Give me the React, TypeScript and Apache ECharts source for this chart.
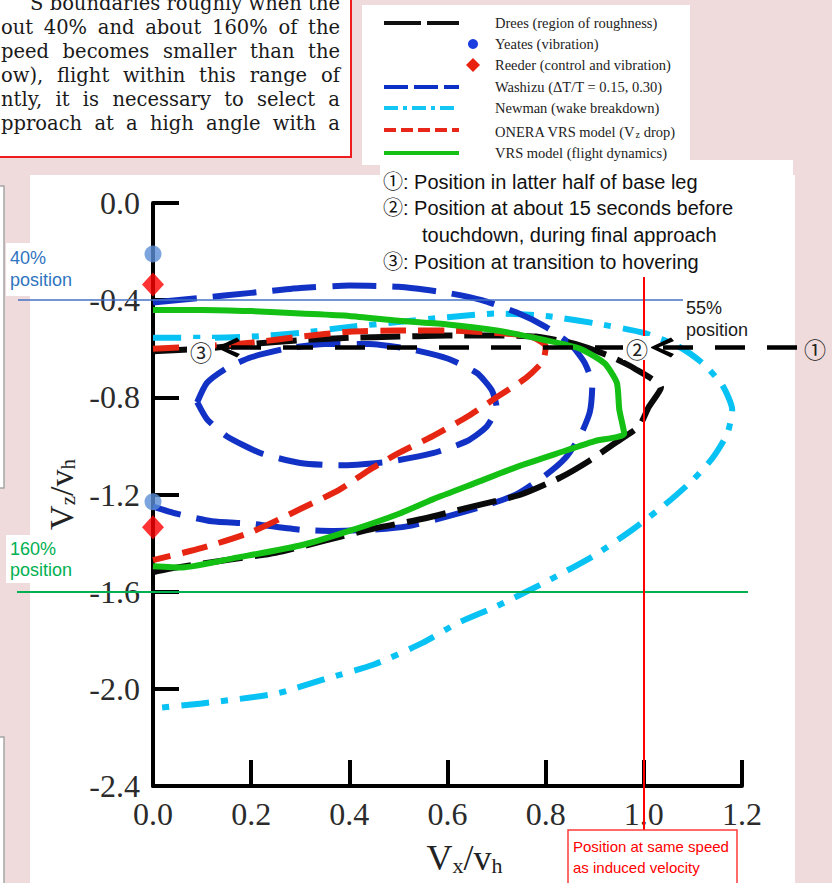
import React, { useEffect, useRef } from 'react';
import * as echarts from 'echarts';

// ---------- axes ----------
const X_MIN = 0;
const X_MAX = 1.2;
const X_STEP = 0.2;
const Y_MIN = -2.4;
const Y_MAX = 0;
const Y_STEP = 0.4;

// ---------- series names ----------
const NAME_DREES = 'Drees (region of roughness)';
const NAME_YEATES = 'Yeates (vibration)';
const NAME_REEDER = 'Reeder (control and vibration)';
const NAME_WASHIZU = 'Washizu (\u0394T/T = 0.15, 0.30)';
const NAME_NEWMAN = 'Newman (wake breakdown)';
const NAME_ONERA = 'ONERA VRS model (Vz drop)';
const NAME_VRS = 'VRS model (flight dynamics)';

// ---------- data (Vx/vh, Vz/vh) ----------
const drees = [
  [0, -0.61], [0.1, -0.6], [0.2, -0.58], [0.3, -0.565], [0.4, -0.555], [0.5, -0.55],
  [0.6, -0.545], [0.7, -0.545], [0.78, -0.55], [0.86, -0.58], [0.93, -0.63], [0.98, -0.68],
  [1.035, -0.76], [1.01, -0.84], [0.99, -0.92], [0.94, -0.99], [0.89, -1.06], [0.83, -1.13],
  [0.75, -1.2], [0.65, -1.25], [0.55, -1.3], [0.45, -1.34], [0.35, -1.39], [0.25, -1.44],
  [0.15, -1.47], [0.05, -1.5], [0, -1.52],
];
const yeates = [[0, -0.21], [0, -1.23]];
const reeder = [[0, -0.335], [0, -1.335]];
const washizuOuter = [
  [0, -0.41], [0.1, -0.39], [0.2, -0.37], [0.3, -0.35], [0.4, -0.34], [0.5, -0.345],
  [0.6, -0.37], [0.67, -0.4], [0.74, -0.45], [0.8, -0.51], [0.85, -0.58], [0.88, -0.66],
  [0.895, -0.75], [0.89, -0.86], [0.87, -0.96], [0.84, -1.05], [0.8, -1.12], [0.74, -1.2],
  [0.67, -1.25], [0.6, -1.29], [0.52, -1.33], [0.45, -1.345], [0.37, -1.35], [0.3, -1.345],
  [0.2, -1.32], [0.12, -1.31], [0.05, -1.28], [0, -1.25],
];
const washizuInner = [
  [0.09, -0.82], [0.11, -0.74], [0.15, -0.68], [0.2, -0.635], [0.27, -0.6], [0.35, -0.58],
  [0.44, -0.58], [0.52, -0.6], [0.6, -0.64], [0.66, -0.7], [0.69, -0.77], [0.7, -0.84],
  [0.68, -0.92], [0.64, -0.98], [0.57, -1.03], [0.48, -1.065], [0.38, -1.08], [0.3, -1.07],
  [0.22, -1.03], [0.15, -0.96], [0.11, -0.89], [0.09, -0.82],
];
const newman = [
  [0, -0.555], [0.1, -0.555], [0.2, -0.55], [0.3, -0.535], [0.4, -0.51], [0.5, -0.49],
  [0.6, -0.47], [0.7, -0.455], [0.8, -0.465], [0.9, -0.495], [1.0, -0.535], [1.07, -0.59],
  [1.12, -0.66], [1.16, -0.75], [1.18, -0.85], [1.17, -0.95], [1.14, -1.05], [1.1, -1.14],
  [1.05, -1.23], [0.98, -1.34], [0.9, -1.45], [0.8, -1.56], [0.7, -1.66], [0.62, -1.73],
  [0.55, -1.81], [0.45, -1.9], [0.35, -1.96], [0.25, -2.02], [0.1, -2.06], [0, -2.08],
];
const onera = [
  [0, -0.6], [0.1, -0.59], [0.2, -0.575], [0.3, -0.55], [0.4, -0.53], [0.5, -0.525],
  [0.6, -0.525], [0.7, -0.535], [0.77, -0.55], [0.8, -0.59], [0.795, -0.65], [0.76, -0.72],
  [0.7, -0.8], [0.64, -0.88], [0.57, -0.96], [0.5, -1.03], [0.44, -1.1], [0.38, -1.18],
  [0.3, -1.26], [0.2, -1.355], [0.1, -1.42], [0, -1.47],
];
const vrs = [
  [0, -0.44], [0.1, -0.44], [0.2, -0.445], [0.3, -0.455], [0.4, -0.465], [0.5, -0.485],
  [0.6, -0.5], [0.7, -0.525], [0.8, -0.565], [0.87, -0.6], [0.92, -0.66], [0.945, -0.74],
  [0.95, -0.85], [0.96, -0.95], [0.9, -0.98], [0.84, -1.02], [0.75, -1.08], [0.66, -1.15],
  [0.57, -1.22], [0.5, -1.28], [0.4, -1.35], [0.3, -1.41], [0.17, -1.46], [0.06, -1.5],
  [0, -1.495],
];

// ---------- annotation values ----------
const POS_40 = -0.4;
const POS_160 = -1.6;
const INDUCED_VX = 1.0;
const PATH_VZ = -0.595;

// ---------- texts ----------
const paragraphLines = [
  'S boundaries roughly when the',
  'out 40% and about 160% of the',
  'peed becomes smaller than the',
  'ow), flight within this range of',
  'ntly, it is necessary to select a',
  'pproach at a high angle with a',
];
const noteLines = [
  '\u2460: Position in latter half of base leg',
  '\u2461: Position at about 15 seconds before',
  'touchdown, during final approach',
  '\u2462: Position at transition to hovering',
];
const label40 = '40%\nposition';
const label160 = '160%\nposition';
const label55 = '55%\nposition';
const labelInduced = 'Position at same speed\nas induced velocity';

// ---------- styles ----------
const C_DREES = '#0a0a0a';
const C_WASHIZU = '#1232c6';
const C_NEWMAN = '#08c2f4';
const C_ONERA = '#e62612';
const C_VRS = '#14c014';
const SERIF = "'Liberation Serif', 'DejaVu Serif', serif";
const SANS = "'Liberation Sans', 'Noto Sans CJK JP', sans-serif";
const CIRCLED = "'Noto Sans CJK JP', 'DejaVu Sans', sans-serif";
const PARA_FONT = "'DejaVu Serif'";
const PARA_SIZE = 19.5;
const CHEVRON = 'path://M10,0 L20,21 L16.5,24 L10,8.5 L3.5,24 L0,21 Z';

function lineSeries(name: string, data: number[][], color: string, dash: any, z = 2) {
  return {
    name,
    type: 'line',
    data,
    smooth: 0.2,
    symbol: 'none',
    z,
    clip: false,
    lineStyle: { color, width: 6, type: dash, cap: 'butt', join: 'round' },
  };
}

const legendRows = [
  { name: NAME_DREES, kind: 'line', color: '#111', dash: [37, 6] },
  { name: NAME_YEATES, kind: 'circle', color: '#1a3de0' },
  { name: NAME_REEDER, kind: 'diamond', color: '#e8220e' },
  { name: NAME_WASHIZU, kind: 'line', color: '#0c2fc4', dash: [24, 6] },
  { name: NAME_NEWMAN, kind: 'line', color: '#14c6f4', dash: [14, 5, 4, 5] },
  { name: NAME_ONERA, kind: 'line', color: '#e8261a', dash: [12, 5] },
  { name: NAME_VRS, kind: 'line', color: '#14c014', dash: null },
];

function measure(ctx: CanvasRenderingContext2D | null, text: string) {
  if (!ctx) return text.length * PARA_SIZE * 0.58;
  return ctx.measureText(text).width;
}

function buildGraphic() {
  const g: any[] = [];
  // background panels
  g.push({ type: 'rect', z: -5, shape: { x: 30, y: 175, width: 765, height: 720 }, style: { fill: '#fff' } });
  g.push({ type: 'rect', z: -5, shape: { x: 380, y: 160, width: 413, height: 120 }, style: { fill: '#fff' } });
  g.push({ type: 'rect', z: -5, shape: { x: 362, y: 5, width: 328, height: 160 }, style: { fill: '#fff' } });
  g.push({ type: 'rect', z: -5, shape: { x: -10, y: 186, width: 14, height: 302 }, style: { fill: '#fff', stroke: '#a6a6a6', lineWidth: 1.5 } });
  g.push({ type: 'rect', z: -5, shape: { x: -10, y: 737, width: 14, height: 160 }, style: { fill: '#fff', stroke: '#a6a6a6', lineWidth: 1.5 } });
  g.push({ type: 'rect', z: -5, shape: { x: -4, y: -4, width: 355, height: 161 }, style: { fill: '#fff', stroke: '#ee1c1c', lineWidth: 2 } });

  // paragraph: first (cut) line as one text, the others justified word by word
  const canvas = document.createElement('canvas');
  const ctx = canvas.getContext('2d');
  if (ctx) ctx.font = `${PARA_SIZE}px ${PARA_FONT}`;
  const left = 1;
  const right = 340;
  paragraphLines.forEach((line, i) => {
    const y = 3 + i * 24;
    if (i === 0) {
      g.push({
        type: 'text', z: 5, x: right, y,
        style: { text: line, fontFamily: PARA_FONT, fontSize: PARA_SIZE, fill: '#1a1a1a', align: 'right', verticalAlign: 'middle' },
      });
      return;
    }
    const words = line.split(' ');
    const widths = words.map((w) => measure(ctx, w));
    const total = widths.reduce((a, b) => a + b, 0);
    const gap = words.length > 1 ? (right - left - total) / (words.length - 1) : 0;
    let x = left;
    words.forEach((w, j) => {
      g.push({
        type: 'text', z: 5, x, y,
        style: { text: w, fontFamily: PARA_FONT, fontSize: PARA_SIZE, fill: '#1a1a1a', align: 'left', verticalAlign: 'middle' },
      });
      x += widths[j] + gap;
    });
  });

  // legend
  const rowY = [23, 44, 65, 87, 108, 130, 153];
  legendRows.forEach((r, i) => {
    const y = rowY[i];
    if (r.kind === 'line') {
      g.push({
        type: 'line', z: 5, shape: { x1: 384, y1: y, x2: 459, y2: y },
        style: { stroke: r.color, lineWidth: 4, lineDash: r.dash || undefined, lineCap: 'butt' },
      });
    } else if (r.kind === 'circle') {
      g.push({ type: 'circle', z: 5, shape: { cx: 473, cy: y, r: 5 }, style: { fill: r.color } });
    } else {
      g.push({ type: 'polygon', z: 5, shape: { points: [[473, y - 7], [480, y], [473, y + 7], [466, y]] }, style: { fill: r.color } });
    }
    if (r.name === NAME_ONERA) {
      g.push({
        type: 'text', z: 5, x: 495, y,
        style: {
          text: '{t|ONERA VRS model (V}{s|z}{t| drop)}', verticalAlign: 'middle',
          rich: {
            t: { fontFamily: SERIF, fontSize: 14.5, fill: '#222', lineHeight: 18, verticalAlign: 'bottom' },
            s: { fontFamily: SERIF, fontSize: 10, fill: '#222', lineHeight: 8, verticalAlign: 'bottom' },
          },
        },
      });
    } else {
      g.push({
        type: 'text', z: 5, x: 495, y,
        style: { text: r.name, fontFamily: SERIF, fontSize: 14.5, fill: '#222', verticalAlign: 'middle' },
      });
    }
  });
  // note lines
  const noteY = [182, 208, 235, 262];
  noteLines.forEach((t, i) => {
    g.push({
      type: 'text', z: 5, x: i === 2 ? 422 : 383, y: noteY[i],
      style: { text: t, fontFamily: SANS, fontSize: 20, fill: '#111', verticalAlign: 'middle' },
    });
  });
  // 40% label
  g.push({ type: 'rect', z: 50, shape: { x: 6, y: 243, width: 66, height: 53 }, style: { fill: '#fff' } });
  g.push({ type: 'text', z: 51, x: 10, y: 247, style: { text: label40, fontFamily: SANS, fontSize: 18, lineHeight: 22, fill: '#2f74c0' } });
  // 160% label
  g.push({ type: 'rect', z: 50, shape: { x: 6, y: 535, width: 94, height: 48 }, style: { fill: '#fff' } });
  g.push({ type: 'text', z: 51, x: 10, y: 538, style: { text: label160, fontFamily: SANS, fontSize: 18, lineHeight: 21, fill: '#00b050' } });
  // 55% label
  g.push({ type: 'text', z: 51, x: 686, y: 297, style: { text: label55, fontFamily: SANS, fontSize: 18, lineHeight: 22, fill: '#1a1a1a' } });
  // induced velocity box
  g.push({ type: 'rect', z: 50, shape: { x: 568, y: 830, width: 169, height: 62 }, style: { fill: '#fff', stroke: '#ff3b3b', lineWidth: 1.5 } });
  g.push({ type: 'text', z: 51, x: 573, y: 836, style: { text: labelInduced, fontFamily: SANS, fontSize: 15, lineHeight: 21, fill: '#ff0000' } });
  // circled markers
  g.push({ type: 'text', z: 60, x: 815, y: 348, style: { text: '\u2460', fontFamily: CIRCLED, fontSize: 22, fill: '#222', align: 'center', verticalAlign: 'middle' } });
  g.push({ type: 'text', z: 60, x: 637, y: 348, style: { text: '\u2461', fontFamily: CIRCLED, fontSize: 22, fill: '#222', align: 'center', verticalAlign: 'middle', backgroundColor: '#fff', padding: [1, 3] } });
  g.push({ type: 'text', z: 60, x: 201, y: 351, style: { text: '\u2462', fontFamily: CIRCLED, fontSize: 22, fill: '#222', align: 'center', verticalAlign: 'middle', backgroundColor: '#fff', padding: [1, 3] } });
  return g;
}

const axisCommon = {
  axisLine: { onZero: false, lineStyle: { color: '#000', width: 4 } },
  axisTick: { inside: true, length: 26, lineStyle: { color: '#000', width: 4 } },
  splitLine: { show: false },
};

function nameRich(big: number, small: number) {
  return {
    v: { fontFamily: SERIF, fontSize: big, color: '#222', lineHeight: big + 4, verticalAlign: 'bottom' },
    s: { fontFamily: SERIF, fontSize: small, color: '#222', lineHeight: 15, verticalAlign: 'bottom' },
  };
}

function buildOption(): any {
  return {
    animation: false,
    backgroundColor: '#efdbdb',
    grid: { left: 153, right: 90, top: 203, bottom: 97, outerBoundsMode: 'none' },
    xAxis: {
      type: 'value', min: X_MIN, max: X_MAX, interval: X_STEP, position: 'bottom',
      ...axisCommon,
      axisLabel: {
        margin: 12, fontFamily: SERIF, fontSize: 32, color: '#2b2b2b',
        formatter: (v: number) => v.toFixed(1),
      },
      name: '{v|V}{s|x}{v|/v}{s|h}', nameLocation: 'middle', nameGap: 50,
      nameTextStyle: { rich: nameRich(36, 22), padding: [0, 0, 0, 34] },
    },
    yAxis: {
      type: 'value', min: Y_MIN, max: Y_MAX, interval: Y_STEP,
      ...axisCommon,
      axisLabel: {
        margin: 13, fontFamily: SERIF, fontSize: 32, color: '#2b2b2b',
        formatter: (v: number) => (Math.abs(v) < 1e-9 ? '0.0' : v.toFixed(1)),
      },
      name: '{v|V}{s|z}{v|/v}{s|h}', nameLocation: 'middle', nameGap: 64, nameRotate: 90,
      nameTextStyle: { rich: nameRich(34, 21) },
    },
    series: [
      lineSeries(NAME_NEWMAN, newman, C_NEWMAN, [28, 12, 7, 12]),
      lineSeries(NAME_WASHIZU, washizuOuter, C_WASHIZU, [44, 16]),
      lineSeries(NAME_WASHIZU, washizuInner, C_WASHIZU, [44, 16]),
      lineSeries(NAME_DREES, drees, C_DREES, [40, 12]),
      lineSeries(NAME_ONERA, onera, C_ONERA, [26, 12]),
      lineSeries(NAME_VRS, vrs, C_VRS, 'solid'),
      {
        name: NAME_YEATES, type: 'scatter', data: yeates, symbol: 'circle', symbolSize: 17, z: 6, clip: false,
        itemStyle: { color: '#5b8dd6' },
      },
      {
        name: NAME_REEDER, type: 'scatter', data: reeder, symbol: 'diamond', symbolSize: [22, 24], z: 6, clip: false,
        itemStyle: { color: '#ff0000' },
      },
      {
        name: 'annotations', type: 'line', data: [], z: 8, clip: false, silent: true,
        markLine: {
          silent: true, animation: false, symbol: ['none', 'none'], label: { show: false },
          emphasis: { disabled: true },
          data: [
            [{ x: 18, yAxis: POS_40, lineStyle: { color: '#4472c4', width: 1.6, type: 'solid' } }, { x: 683, yAxis: POS_40 }],
            [{ x: 17, yAxis: POS_160, lineStyle: { color: '#00b050', width: 2, type: 'solid' } }, { x: 748, yAxis: POS_160 }],
            [{ xAxis: INDUCED_VX, y: 277, lineStyle: { color: '#ff0000', width: 2, type: 'solid' } }, { xAxis: INDUCED_VX, y: 830 }],
            [
              { x: 797, yAxis: PATH_VZ, lineStyle: { color: '#000', width: 4.5, type: [30, 22] } },
              { x: 662, yAxis: PATH_VZ, symbol: CHEVRON, symbolSize: [20, 24] },
            ],
            [
              { x: 625, yAxis: PATH_VZ, lineStyle: { color: '#000', width: 4.5, type: [30, 22] } },
              { x: 228, yAxis: PATH_VZ, symbol: CHEVRON, symbolSize: [20, 24] },
            ],
          ],
        },
      },
    ],
    graphic: buildGraphic(),
  };
}

export default function App() {
  const ref = useRef<HTMLDivElement>(null);
  useEffect(() => {
    if (!ref.current) return;
    const chart = echarts.init(ref.current, null, { renderer: 'svg' });
    chart.setOption(buildOption());
    return () => chart.dispose();
  }, []);
  return (
    <div
      ref={ref}
      style={{ position: 'absolute', left: 0, top: 0, width: 832, height: 883 }}
    />
  );
}
